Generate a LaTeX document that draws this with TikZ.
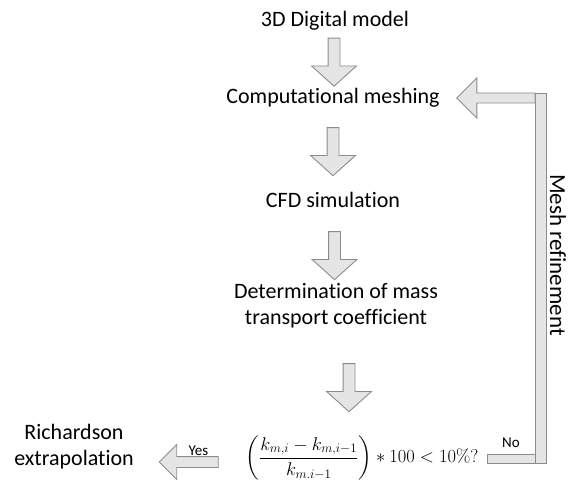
\RequirePackage{fix-cm}
\documentclass[tikz,border=0pt]{standalone}
\usepackage{amsmath,amssymb}
\usepackage[no-math]{fontspec}
\setmainfont{Carlito}[Ligatures=NoCommon]
\usetikzlibrary{shapes,arrows,positioning,calc}

\tikzset{
  txt/.style={align=center, inner sep=0pt, font=\fontsize{22}{26}\selectfont},
  lbl/.style={inner sep=0pt, font=\fontsize{15}{18}\selectfont},
  blkbase/.style={single arrow, draw=black!45, fill=gray!20, line width=0.9pt,
    inner xsep=0pt},
  blk/.style={blkbase, inner ysep=5.5pt, single arrow head extend=16.5pt,
    single arrow tip angle=96, minimum height=48pt, rotate=-90},
  yesblk/.style={blkbase, inner ysep=5pt, single arrow head extend=12pt,
    single arrow tip angle=90, minimum height=59pt, rotate=180},
  bar/.style={draw=black!45, fill=gray!20, line width=0.9pt}
}

\begin{document}
\begin{tikzpicture}[x=1pt, y=-1pt]
  \useasboundingbox (0,0) rectangle (569,481);

  \node[txt] (model) at (335,21) {3D Digital model};
  \node[txt] (mesh) at (333,98) {Computational meshing};
  \node[txt] (cfd) at (333,200) {CFD simulation};
  \node[txt] (coef) at (336,306) {Determination of mass\\transport coefficient};
  \node[txt, font=\fontsize{18.5}{22}\selectfont] (check) at (362,458)
    {$\left(\dfrac{k_{m,i}-k_{m,i-1}}{k_{m.i-1}}\right)\ast 100<10\%?$};
  \node[txt] (rich) at (74,447) {Richardson\\extrapolation};

  % block arrows down the column
  \node[blk] (a1) at ($(model)!0.5!(mesh)$) {};
  \node[blk] (a2) at ($(mesh)!0.5!(cfd)$) {};
  \node[blk] (a3) at ($(cfd)!0.5!(coef)$) {};
  \node[blk] (a4) at ($(coef)!0.5!(check)+(0,3)$) {};

  % yes branch
  \node[yesblk] (yes) at (191.5,462) {};
  \node[lbl] (yeslbl) at ($(yes.center)+(7,-11)$) {Yes};

  % no branch, back to meshing
  \coordinate (lb) at ($(check.east)+(9,0.5)$);
  \coordinate (lt) at ($(mesh.east)+(17,0)$);
  \coordinate (loopx) at (540.5,0);
  \draw[bar] ($(loopx |- lt)+(-5.5,-5)$) rectangle ($(loopx |- lb)+(5.5,4.5)$);
  \draw[bar] ($(lb)+(0,-4.5)$) rectangle ($(loopx |- lb)+(-5.5,4.5)$);
  \draw[bar] ($(loopx |- lt)+(-5.5,-5)$) -- ($(lt)+(20,-5)$) -- ($(lt)+(20,-20)$)
    -- (lt) -- ($(lt)+(20,20)$) -- ($(lt)+(20,5)$) -- ($(loopx |- lt)+(-5.5,5)$) -- cycle;
  \node[lbl] (nolbl) at (511,443) {No};
  \node[txt, rotate=-90, font=\fontsize{23}{27}\selectfont] (refine) at (558,255) {Mesh refinement};
\end{tikzpicture}
\end{document}
